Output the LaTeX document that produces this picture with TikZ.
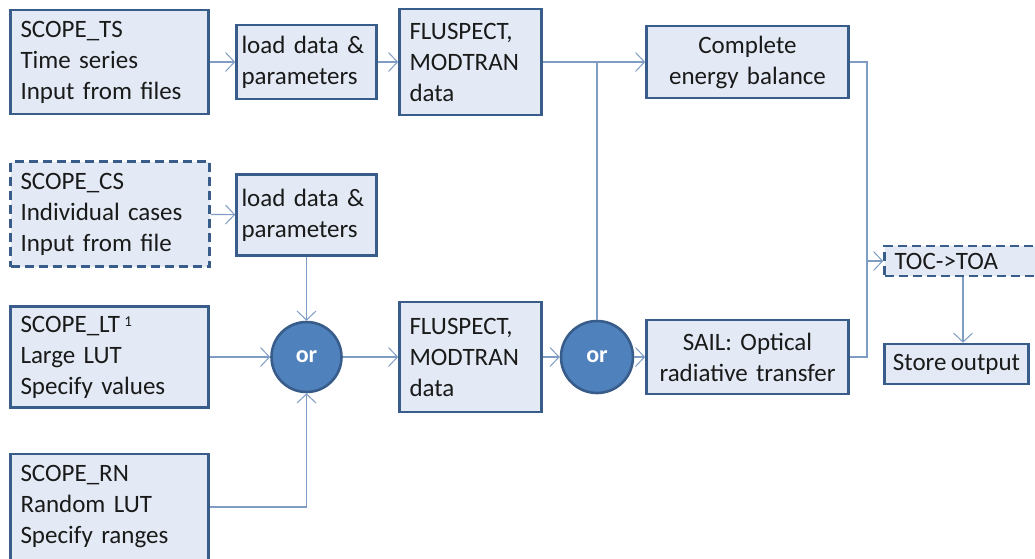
\documentclass[tikz,border=0pt]{standalone}
\usepackage{fontspec}
\setmainfont{Carlito}[WordSpace=0.75]
\usetikzlibrary{arrows.meta, positioning}
\definecolor{boxline}{HTML}{385D8A}
\definecolor{boxfill}{HTML}{E3EAF5}
\definecolor{connline}{HTML}{7E9CC4}
\definecolor{orfill}{HTML}{4F81BD}
\definecolor{ink}{HTML}{1A1A1A}

\begin{document}
\begin{tikzpicture}[
  x=1pt, y=-1pt,
  blk/.style={rectangle, draw=boxline, line width=2.6pt, fill=boxfill,
              inner xsep=10pt, inner ysep=0pt, align=left,
              font=\fontsize{25}{31}\selectfont, text=ink},
  blkd/.style={blk, dash pattern=on 9pt off 5pt},
  ld/.style={blk, inner xsep=5pt, text width=130pt},
  orc/.style={circle, draw=boxline, line width=2.6pt, fill=orfill,
              minimum size=70pt, inner sep=0pt,
              font=\fontsize{24}{28}\selectfont\bfseries, text=white},
  conn/.style={draw=connline, line width=1.2pt},
  arr/.style={conn, -{Straight Barb[length=9pt, width=19pt, line width=1pt]}}
]
  \useasboundingbox (0,0) rectangle (1035,558);

  % inputs
  \node[blk, text width=178pt, minimum height=104pt] (ts) at (109.5,62)
    {SCOPE\_TS\\Time series\\Input from files};
  \node[blkd, text width=179pt, minimum height=105pt] (cs) at (110,214)
    {SCOPE\_CS\\Individual cases\\Input from file};
  \node[blk, text width=178pt, minimum height=101pt] (lt) at (109.5,357)
    {SCOPE\_LT\,\raisebox{0.45ex}{\fontsize{15}{15}\selectfont 1}\\Large LUT\\Specify values};
  \node[blk, text width=178pt, minimum height=106pt] (rn) at (109.5,507)
    {SCOPE\_RN\\Random LUT\\Specify ranges};

  % loading
  \node[ld, minimum height=74pt] (load1) at (306.5,62) {load data \&\\parameters};
  \node[ld, minimum height=81pt] (load2) at (306.5,215) {load data \&\\parameters};
  \node[orc] (or1) at (306.5,357) {or};

  % spectra and models
  \node[blk, text width=122pt, minimum height=106pt] (fl1) at (470.5,62)
    {FLUSPECT,\\MODTRAN\\data};
  \node[blk, text width=122pt, minimum height=110pt] (fl2) at (470.5,357)
    {FLUSPECT,\\MODTRAN\\data};
  \node[orc, minimum size=72pt] (or2) at (597,357) {or};
  \node[blk, align=center, text width=182pt, minimum height=72pt] (eb) at (747.5,62)
    {Complete\\energy balance};
  \node[blk, align=center, text width=182pt, minimum height=74pt] (sail) at (747.5,357)
    {SAIL: Optical\\radiative transfer};

  % output
  \node[blkd, text width=137pt, minimum height=30pt] (toc) at (963,261) {TOC->TOA};
  \node[blk, inner xsep=4pt, minimum width=144pt, minimum height=40pt] (store) at (956.5,364)
    {Store output};
  \coordinate (bus) at (867,261);

  % connectors
  \draw[arr] (ts) -- (load1);
  \draw[arr] (load1) -- (fl1);
  \draw[arr] (fl1) -- (eb);
  \draw[conn] (or2.north) -- (or2.north |- fl1.east);
  \draw[arr] (cs) -- (load2);
  \draw[arr] (load2) -- (or1);
  \draw[arr] (lt) -- (or1);
  \draw[arr] (rn) -| (or1);
  \draw[arr] (or1) -- (fl2);
  \draw[arr] (fl2) -- (or2);
  \draw[arr] (or2) -- (sail);
  \draw[conn] (eb.east) -| (bus) |- (sail.east);
  \draw[arr] (bus) -- (toc.west);
  \draw[arr] (toc.south) -- (toc.south |- store.north);
\end{tikzpicture}
\end{document}
